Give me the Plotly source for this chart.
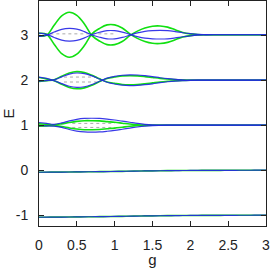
import plotly.graph_objects as go

g = [0.0, 0.1, 0.2, 0.3, 0.4, 0.5, 0.6, 0.7, 0.8, 0.9, 1.0, 1.1, 1.2, 1.3, 1.4, 1.5,
     1.6, 1.7, 1.8, 1.9, 2.0, 2.1, 2.2, 2.3, 2.4, 2.5, 2.6, 2.7, 2.8, 2.9, 3.0]

# level E ~ 3
green3_a = [2.98, 3.00, 3.22, 3.43, 3.51, 3.44, 3.25, 2.99, 2.87, 2.79, 2.79, 2.86, 2.99, 3.09, 3.16, 3.20,
            3.205, 3.18, 3.12, 3.06, 3.03, 3.015, 3.01, 3.01, 3.01, 3.01, 3.01, 3.01, 3.01, 3.01, 3.01]
green3_b = [3.04, 3.02, 2.80, 2.59, 2.51, 2.58, 2.77, 3.03, 3.15, 3.23, 3.23, 3.16, 3.03, 2.93, 2.86, 2.82,
            2.815, 2.84, 2.90, 2.96, 2.99, 3.005, 3.01, 3.01, 3.01, 3.01, 3.01, 3.01, 3.01, 3.01, 3.01]
blue3_a = [2.975, 3.00, 3.07, 3.13, 3.15, 3.135, 3.08, 3.005, 2.955, 2.92, 2.92, 2.95, 3.00, 3.05, 3.085, 3.10,
           3.105, 3.10, 3.08, 3.055, 3.035, 3.02, 3.014, 3.01, 3.01, 3.01, 3.01, 3.01, 3.01, 3.01, 3.01]
blue3_b = [3.045, 3.02, 2.95, 2.89, 2.87, 2.885, 2.94, 3.015, 3.065, 3.10, 3.10, 3.07, 3.02, 2.97, 2.935, 2.92,
           2.915, 2.92, 2.94, 2.965, 2.985, 3.00, 3.006, 3.01, 3.01, 3.01, 3.01, 3.01, 3.01, 3.01, 3.01]

# level E ~ 2
green2_a = [1.97, 1.99, 2.01, 2.09, 2.16, 2.19, 2.17, 2.11, 2.03, 1.96, 1.93, 1.905, 1.90, 1.905, 1.92, 1.94,
            1.96, 1.975, 1.988, 1.995, 2.0, 2.0, 2.0, 2.0, 2.0, 2.0, 2.0, 2.0, 2.0, 2.0, 2.0]
green2_b = [2.06, 2.03, 1.99, 1.91, 1.84, 1.81, 1.83, 1.89, 1.97, 2.04, 2.07, 2.095, 2.10, 2.095, 2.08, 2.06,
            2.04, 2.025, 2.012, 2.005, 2.0, 2.0, 2.0, 2.0, 2.0, 2.0, 2.0, 2.0, 2.0, 2.0, 2.0]
blue2_a = [1.98, 1.99, 2.01, 2.075, 2.135, 2.16, 2.145, 2.095, 2.025, 1.955, 1.915, 1.89, 1.88, 1.885, 1.90, 1.92,
           1.945, 1.965, 1.98, 1.99, 1.996, 2.0, 2.0, 2.0, 2.0, 2.0, 2.0, 2.0, 2.0, 2.0, 2.0]
blue2_b = [2.07, 2.04, 1.99, 1.925, 1.865, 1.84, 1.855, 1.905, 1.975, 2.045, 2.085, 2.11, 2.12, 2.115, 2.10, 2.08,
           2.055, 2.035, 2.02, 2.01, 2.004, 2.0, 2.0, 2.0, 2.0, 2.0, 2.0, 2.0, 2.0, 2.0, 2.0]

# level E ~ 1
green1_a = [1.03, 1.02, 1.01, 1.03, 1.06, 1.085, 1.10, 1.10, 1.095, 1.08, 1.065, 1.045, 1.025, 1.01, 1.003, 1.0,
            1.0, 1.0, 1.0, 1.0, 1.0, 1.0, 1.0, 1.0, 1.0, 1.0, 1.0, 1.0, 1.0, 1.0, 1.0]
green1_b = [0.98, 0.985, 0.99, 0.97, 0.94, 0.915, 0.90, 0.90, 0.905, 0.92, 0.935, 0.955, 0.975, 0.99, 0.997, 1.0,
            1.0, 1.0, 1.0, 1.0, 1.0, 1.0, 1.0, 1.0, 1.0, 1.0, 1.0, 1.0, 1.0, 1.0, 1.0]
blue1_a = [1.06, 1.04, 1.02, 1.05, 1.095, 1.13, 1.15, 1.155, 1.15, 1.135, 1.115, 1.09, 1.065, 1.04, 1.02, 1.008,
           1.003, 1.0, 1.0, 1.0, 1.0, 1.0, 1.0, 1.0, 1.0, 1.0, 1.0, 1.0, 1.0, 1.0, 1.0]
blue1_b = [0.99, 0.985, 0.98, 0.95, 0.905, 0.87, 0.85, 0.845, 0.85, 0.865, 0.885, 0.91, 0.935, 0.96, 0.98, 0.992,
           0.997, 1.0, 1.0, 1.0, 1.0, 1.0, 1.0, 1.0, 1.0, 1.0, 1.0, 1.0, 1.0, 1.0, 1.0]

# level E ~ 0 and E ~ -1
level0 = [-0.045, -0.044, -0.043, -0.042, -0.040, -0.038, -0.036, -0.034, -0.032, -0.030, -0.028, -0.025,
          -0.022, -0.019, -0.016, -0.014, -0.012, -0.010, -0.008, -0.007, -0.006, -0.005, -0.004, -0.003,
          -0.003, -0.002, -0.002, -0.001, -0.001, 0.0, 0.0]
levelm1 = [-1.045, -1.044, -1.043, -1.042, -1.040, -1.038, -1.036, -1.034, -1.032, -1.030, -1.028, -1.025,
           -1.022, -1.019, -1.016, -1.014, -1.012, -1.010, -1.008, -1.007, -1.006, -1.005, -1.004, -1.003,
           -1.003, -1.002, -1.002, -1.001, -1.001, -1.0, -1.0]

# grey dotted reference segments
dotted_levels = [3.03, 2.07, 1.96, 1.04, 0.95, -0.03, -1.03]
dotted_start = [0.15, 0.33, 0.33, 0.44, 0.44, 0.45, 0.45]
dotted_end = [1.0, 0.78, 0.78, 1.0, 1.0, 1.0, 1.0]

x_ticks = [0, 0.5, 1, 1.5, 2, 2.5, 3]
x_ticklabels = ["0", "0.5", "1", "1.5", "2", "2.5", "3"]
y_ticks = [-1, 0, 1, 2, 3]
y_ticklabels = ["-1", "0", "1", "2", "3"]

GREEN = "#11e011"
BLUE = "#2424e6"
FONT = "Liberation Sans, Arial, sans-serif"

fig = go.Figure()

for lev, x0, x1 in zip(dotted_levels, dotted_start, dotted_end):
    fig.add_trace(go.Scatter(x=[x0, x1], y=[lev, lev], mode="lines",
                             line=dict(color="#aaaaaa", width=1, dash="dot"),
                             hoverinfo="skip"))

for ys in [green3_a, green3_b, green2_a, green2_b, green1_a, green1_b, level0, levelm1]:
    fig.add_trace(go.Scatter(x=g, y=ys, mode="lines",
                             line=dict(color=GREEN, width=1.6, shape="spline", smoothing=1.0)))

for ys in [blue3_a, blue3_b, blue2_a, blue2_b, blue1_a, blue1_b, level0, levelm1]:
    fig.add_trace(go.Scatter(x=g, y=ys, mode="lines", opacity=0.9,
                             line=dict(color=BLUE, width=1.2, shape="spline", smoothing=1.0)))

axis_common = dict(
    showgrid=False, zeroline=False, showline=True, linecolor="#222222", linewidth=1,
    mirror="ticks", ticks="inside", ticklen=5, tickcolor="#222222", automargin=False,
    tickfont=dict(family=FONT, size=14, color="#222222"),
)

fig.update_layout(
    width=274, height=268,
    margin=dict(l=39, r=8, t=1, b=42, autoexpand=False),
    paper_bgcolor="white", plot_bgcolor="white",
    showlegend=False,
    font=dict(family=FONT, size=14, color="#222222"),
)
fig.update_xaxes(range=[0, 3], tickvals=x_ticks, ticktext=x_ticklabels,
                 ticklabelstandoff=6,
                 title=dict(text="g", standoff=3, font=dict(family=FONT, size=15)),
                 **axis_common)
fig.update_yaxes(range=[-1.24, 3.76], tickvals=y_ticks, ticktext=y_ticklabels,
                 ticklabelstandoff=7,
                 title=dict(text="E", standoff=10, font=dict(family=FONT, size=15)),
                 **axis_common)

fig.write_html("out.html", config={"displayModeBar": False},
               post_script="document.body.style.margin='0px';document.body.style.overflow='hidden';")
